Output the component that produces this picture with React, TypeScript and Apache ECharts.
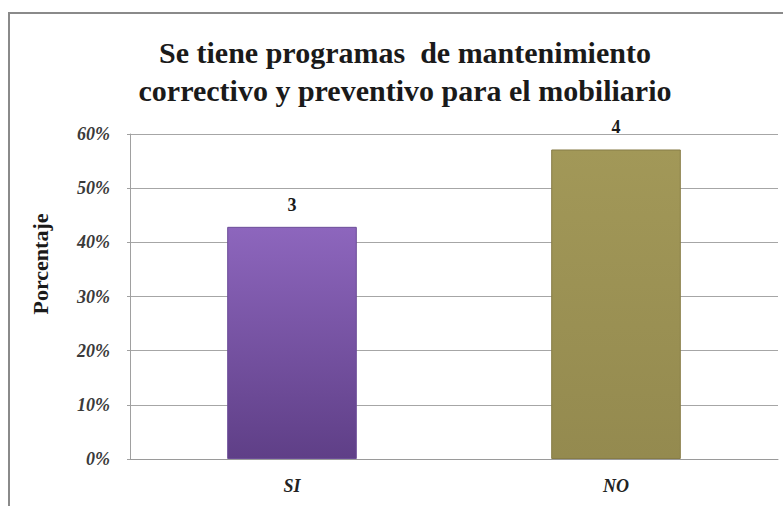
import React, { useEffect, useRef } from "react";
import * as echarts from "echarts";

const TITLE_LINES = ["Se tiene programas  de mantenimiento", "correctivo y preventivo para el mobiliario"];
const CATEGORIES = ["SI", "NO"];
const PERCENTS = [42.86, 57.14];
const COUNTS = [3, 4];
const Y_AXIS_NAME = "Porcentaje";

const SERIF = "Liberation Serif";

export default function App() {
  const ref = useRef<HTMLDivElement>(null);
  useEffect(() => {
    if (!ref.current) return;
    const chart = echarts.init(ref.current, null, { renderer: "svg" });
    const barColors = [
      new echarts.graphic.LinearGradient(0, 0, 0, 1, [
        { offset: 0, color: "#8d66bd" },
        { offset: 1, color: "#5f3f87" },
      ]),
      new echarts.graphic.LinearGradient(0, 0, 0, 1, [
        { offset: 0, color: "#a29858" },
        { offset: 1, color: "#948a4f" },
      ]),
    ];
    const borderColors = ["#6c4d98", "#877c46"];
    chart.setOption({
      animation: false,
      backgroundColor: "#ffffff",
      title: {
        text: TITLE_LINES.join("\n"),
        left: 400,
        textAlign: "center",
        top: 28,
        textStyle: {
          fontFamily: SERIF,
          fontWeight: "bold",
          fontSize: 30,
          lineHeight: 38,
          color: "#1a1a1a",
        },
      },
      graphic: [
        {
          type: "rect",
          shape: { x: 9, y: 13, width: 800, height: 600 },
          style: { fill: "none", stroke: "#8a8a8a", lineWidth: 2 },
          silent: true,
        },
        {
          type: "text",
          x: 40,
          y: 264,
          rotation: Math.PI / 2,
          style: {
            text: Y_AXIS_NAME,
            fontFamily: SERIF,
            fontWeight: "bold",
            fontSize: 22,
            fill: "#1a1a1a",
            align: "center",
            verticalAlign: "middle",
          },
          silent: true,
        },
      ],
      grid: { left: 130, right: 5, top: 134, bottom: 47 },
      xAxis: {
        type: "category",
        data: CATEGORIES,
        axisTick: { show: false },
        axisLine: { show: true, lineStyle: { color: "#9a9a9a" } },
        axisLabel: {
          margin: 18,
          fontFamily: SERIF,
          fontStyle: "italic",
          fontWeight: "bold",
          fontSize: 18,
          color: "#222",
        },
      },
      yAxis: {
        type: "value",
        min: 0,
        max: 60,
        interval: 10,
        axisLine: { show: true, lineStyle: { color: "#a0a0a0" } },
        axisTick: { show: true, length: 3, lineStyle: { color: "#a0a0a0" } },
        splitLine: { show: true, lineStyle: { color: "#a6a6a6", width: 1 } },
        axisLabel: {
          margin: 20,
          formatter: "{value}%",
          fontFamily: SERIF,
          fontStyle: "italic",
          fontWeight: "bold",
          fontSize: 18,
          color: "#3a3a3a",
        },
      },
      series: [
        {
          type: "bar",
          barWidth: "40%",
          data: PERCENTS.map((v, i) => ({
            value: v,
            itemStyle: { color: barColors[i], borderColor: borderColors[i], borderWidth: 1 },
          })),
          label: {
            show: true,
            position: "top",
            distance: 13,
            formatter: (p: any) => String(COUNTS[p.dataIndex]),
            fontFamily: SERIF,
            fontWeight: "bold",
            fontSize: 18,
            color: "#1a1a1a",
          },
        },
      ],
    });
    return () => chart.dispose();
  }, []);
  return (
    <div
      ref={ref}
      style={{ position: "fixed", left: 0, top: 0, width: 783, height: 506 }}
    />
  );
}
